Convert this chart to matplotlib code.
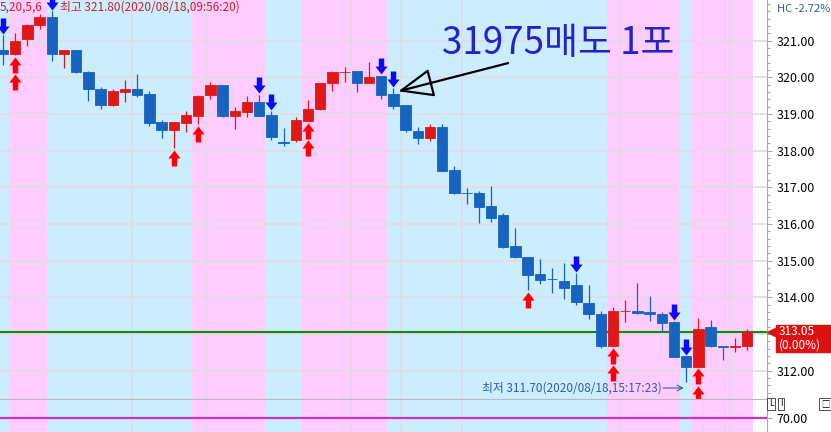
import numpy as np
import matplotlib.pyplot as plt
from matplotlib.path import Path
from matplotlib.patches import Rectangle
from matplotlib.ticker import MultipleLocator, FormatStrFormatter, FuncFormatter
from matplotlib.transforms import ScaledTranslation, blended_transform_factory

plt.rcParams['font.family'] = ['Noto Sans CJK KR', 'DejaVu Sans']

# candle values (index = candle number)
opens = [320.74, 320.63, 321.04, 321.42, 321.64, 320.63, 320.74, 320.15, 319.68, 319.25,
         319.61, 319.68, 319.54, 318.78, 318.56, 318.76, 318.94, 319.52, 319.79, 318.94,
         319.06, 319.33, 318.97, 318.25, 318.28, 318.82, 319.13, 319.84, 320.14, 320.17,
         319.85, 320.04, 319.54, 319.25, 318.54, 318.36, 318.65, 317.47, 316.85, 316.84,
         316.49, 316.25, 315.40, 315.09, 314.64, 314.50, 314.46, 314.34, 313.86, 313.55,
         312.68, 313.62, 313.64, 313.61, 313.55, 313.32, 312.40, 312.11, 313.19, 312.68,
         312.64, 312.68]
highs = [321.15, 321.20, 321.45, 321.74, 321.80, 320.76, 320.74, 320.17, 319.73, 319.68,
         319.93, 320.09, 319.63, 318.84, 318.78, 319.08, 319.52, 319.88, 319.80, 319.18,
         319.49, 319.52, 319.08, 318.61, 318.91, 319.38, 319.86, 320.17, 320.29, 320.18,
         320.42, 320.05, 319.70, 319.26, 318.65, 318.73, 318.73, 317.58, 316.99, 316.91,
         317.04, 316.31, 315.88, 315.10, 315.04, 314.79, 314.95, 314.66, 314.34, 313.63,
         313.75, 313.93, 314.40, 314.04, 313.61, 313.35, 312.40, 313.43, 313.38, 312.68,
         312.89, 313.14]
lows = [320.34, 320.60, 320.86, 321.32, 320.44, 320.26, 320.12, 319.36, 319.13, 319.23,
        319.32, 319.47, 318.67, 318.36, 318.07, 318.52, 318.72, 319.41, 318.93, 318.58,
        318.93, 318.95, 318.30, 318.13, 318.23, 318.80, 319.10, 319.63, 319.88, 319.60,
        319.84, 319.41, 319.15, 318.52, 318.17, 318.27, 317.44, 316.83, 316.54, 316.02,
        316.06, 315.34, 315.08, 314.20, 314.37, 314.13, 313.96, 313.78, 313.41, 312.63,
        312.67, 313.34, 313.55, 313.37, 313.07, 312.37, 311.70, 312.11, 312.64, 312.28,
        312.50, 312.57]
closes = [320.63, 320.99, 321.43, 321.64, 320.63, 320.74, 320.14, 319.67, 319.26, 319.63,
          319.68, 319.52, 318.76, 318.56, 318.78, 318.97, 319.49, 319.79, 318.94, 319.08,
          319.33, 318.95, 318.37, 318.21, 318.83, 319.14, 319.84, 320.15, 320.16, 319.85,
          320.02, 319.52, 319.22, 318.56, 318.35, 318.65, 317.45, 316.85, 316.84, 316.47,
          316.17, 315.38, 315.09, 314.61, 314.47, 314.49, 314.27, 313.88, 313.54, 312.68,
          313.63, 313.64, 313.58, 313.54, 313.29, 312.38, 312.11, 313.13, 312.68, 312.64,
          312.68, 313.05]

# buy signals (red arrows under the candle): candle -> number of arrows
up_signals = {1: 2, 14: 1, 16: 1, 25: 2, 43: 1, 50: 2, 57: 2}
# sell signals (blue arrows over the candle)
down_signals = [0, 4, 21, 22, 31, 32, 47, 55, 56]

pink_sessions = [(0.5, 3.6), (15.5, 21.5), (24.5, 31.5), (49.5, 55.5), (56.5, 61.5)]
time_grid = [10.6, 16.6, 28.5, 32.6, 37.6, 50.6, 59.6]
price_ticks = np.arange(312, 322)
last_price = 313.05
sub_level = 70.0

RED = '#E01717'
BLUE = '#1763C0'
PINK = '#FFCCFF'
SKY = '#CCECFF'
GRID = '#DEDEDE'

opens = np.array(opens)
highs = np.array(highs)
lows = np.array(lows)
closes = np.array(closes)
n = len(opens)
x = np.arange(n)

W, H = 831, 432
fig = plt.figure(figsize=(W / 100, H / 100), dpi=100)
ax = fig.add_axes([0, 33 / H, 767 / W, 399 / H])
ax2 = fig.add_axes([0, 0, 767 / W, 33 / H])

for a in (ax, ax2):
    a.set_xlim(-0.25, 62.62)
    a.axvspan(-1, n - 0.5, color=SKY, lw=0, zorder=0)
    for s, e in pink_sessions:
        a.axvspan(s, e, color=PINK, lw=0, zorder=0)
    for g in time_grid:
        a.axvline(g, color=GRID, lw=1.2, zorder=0.5)
    a.set_xticks([])
    for side in ['top', 'left', 'bottom']:
        a.spines[side].set_visible(False)
    a.spines['right'].set_color('#AAAAAA')
    a.yaxis.tick_right()
    a.tick_params(axis='y', which='major', length=3.6, width=0.8, color='#AAAAAA',
                  pad=3.5, labelsize=9)
    a.tick_params(axis='y', which='minor', length=2, width=0.8, color='#AAAAAA')

# main price panel
ax.set_ylim(311.23, 322.11)
ax.set_yticks(price_ticks)
# the label under the current-price tag is hidden
ax.yaxis.set_major_formatter(
    FuncFormatter(lambda v, pos: '' if abs(v - last_price) < 0.5 else f'{v:.2f}'))
ax.yaxis.set_minor_locator(MultipleLocator(0.2))
for p in price_ticks:
    ax.axhline(p, color=GRID, lw=1.2, zorder=0.5)

ax.axhline(last_price, color='#148A14', lw=1.5, zorder=1.5)

colors = np.where(closes >= opens, RED, BLUE)
ax.vlines(x, lows, highs, colors=colors, lw=0.9, zorder=2)
ax.bar(x, np.abs(closes - opens), bottom=np.minimum(opens, closes), width=0.86,
       color=colors, edgecolor=colors, lw=0.6, zorder=2.1)


def arrow_path(direction):
    v = [(0, 0), (0.38, -0.5), (0.17, -0.5), (0.17, -1), (-0.17, -1),
         (-0.17, -0.5), (-0.38, -0.5), (0, 0)]
    v = [(a, b * direction) for a, b in v]
    codes = [Path.MOVETO] + [Path.LINETO] * 6 + [Path.CLOSEPOLY]
    return Path(v, codes)


px = 0.72  # points per pixel
up_path = arrow_path(1)
down_path = arrow_path(-1)
for idx, count in up_signals.items():
    for k in range(count):
        off = -(1.5 + k * 17.5) * px / 72
        tr = ax.transData + ScaledTranslation(0, off, fig.dpi_scale_trans)
        ax.plot(idx, lows[idx], marker=up_path, ms=23, color='#FF0000', mew=0,
                ls='none', transform=tr, zorder=3)
for idx in down_signals:
    off = 1.5 * px / 72
    tr = ax.transData + ScaledTranslation(0, off, fig.dpi_scale_trans)
    ax.plot(idx, highs[idx], marker=down_path, ms=23, color='#0A0AF5', mew=0,
            ls='none', transform=tr, zorder=3)

# hand-drawn note
ax.text(0.576, 0.892, '31975매도 1포', transform=ax.transAxes, fontsize=26.5,
        color='#2323C8', va='center', ha='left', zorder=4)
ax.annotate('', xy=(32.4, 319.62), xytext=(41.4, 320.39),
            arrowprops=dict(arrowstyle='-|>,head_length=1.1,head_width=0.45',
                            mutation_scale=20, lw=1.6, ec='black', fc='none',
                            shrinkA=0, shrinkB=0), zorder=4)

# high / low labels
ax.text(0.0, 1 - 7 / 399, '5,20,5,6', transform=ax.transAxes, fontsize=8.5,
        color='#D02020', va='center', ha='left', zorder=2.5)
ax.text(60 / 767, 1 - 7 / 399, '최고 321.80(2020/08/18,09:56:20)', transform=ax.transAxes,
        fontsize=8.5, color='#D02020', va='center', ha='left', zorder=2.5)
i_low = int(np.argmin(lows))
y_lab = lows[i_low] - 0.17
ax.text(i_low - 2.0, y_lab, '최저 311.70(2020/08/18,15:17:23)', fontsize=8.5,
        color='#3060A0', va='center', ha='right', zorder=4)
ax.annotate('', xy=(i_low - 0.2, y_lab), xytext=(i_low - 1.9, y_lab),
            arrowprops=dict(arrowstyle='->', lw=0.8, color='#3060A0',
                            shrinkA=0, shrinkB=0))

# current price tag
bt = blended_transform_factory(ax.transAxes, ax.transData)
ax.add_patch(Rectangle((1.0117, last_price - 0.55), 0.2, 0.74, transform=bt,
                       color='#DD1111', clip_on=False, zorder=5))
ax.plot(1.0055, last_price, marker='<', ms=6, color='#DD1111', transform=bt,
        clip_on=False, zorder=5)
ax.text(1.015, last_price - 0.17, f'{last_price:.2f}\n(0.00%)', transform=bt,
        fontsize=8.5, linespacing=1.05, color='white', va='center', ha='left', zorder=6)

fig.text(777 / W, 1 - 9 / H, 'HC -2.72%', fontsize=8, color='#2A5F9E',
         va='center', ha='left')

# lower panel
ax2.set_ylim(52.7, 92.7)
ax2.set_yticks([sub_level])
ax2.yaxis.set_major_formatter(FormatStrFormatter('%.2f'))
ax2.spines['top'].set_visible(True)
ax2.spines['top'].set_color('#B8B8B8')
ax2.axhline(sub_level, color='#C832C8', lw=1.6, zorder=2)

box = dict(boxstyle='square,pad=0.2', fc='white', ec='#333333', lw=0.6)
fig.text(769 / W, 1 - 404 / H, 'L', fontsize=6, va='center', ha='left', bbox=box)
fig.text(780 / W, 1 - 404 / H, 'I', fontsize=6, va='center', ha='left', bbox=box)
fig.text(821 / W, 1 - 404 / H, '□', fontsize=6, va='center', ha='left', bbox=box)

fig.savefig('out.png', dpi=100)
